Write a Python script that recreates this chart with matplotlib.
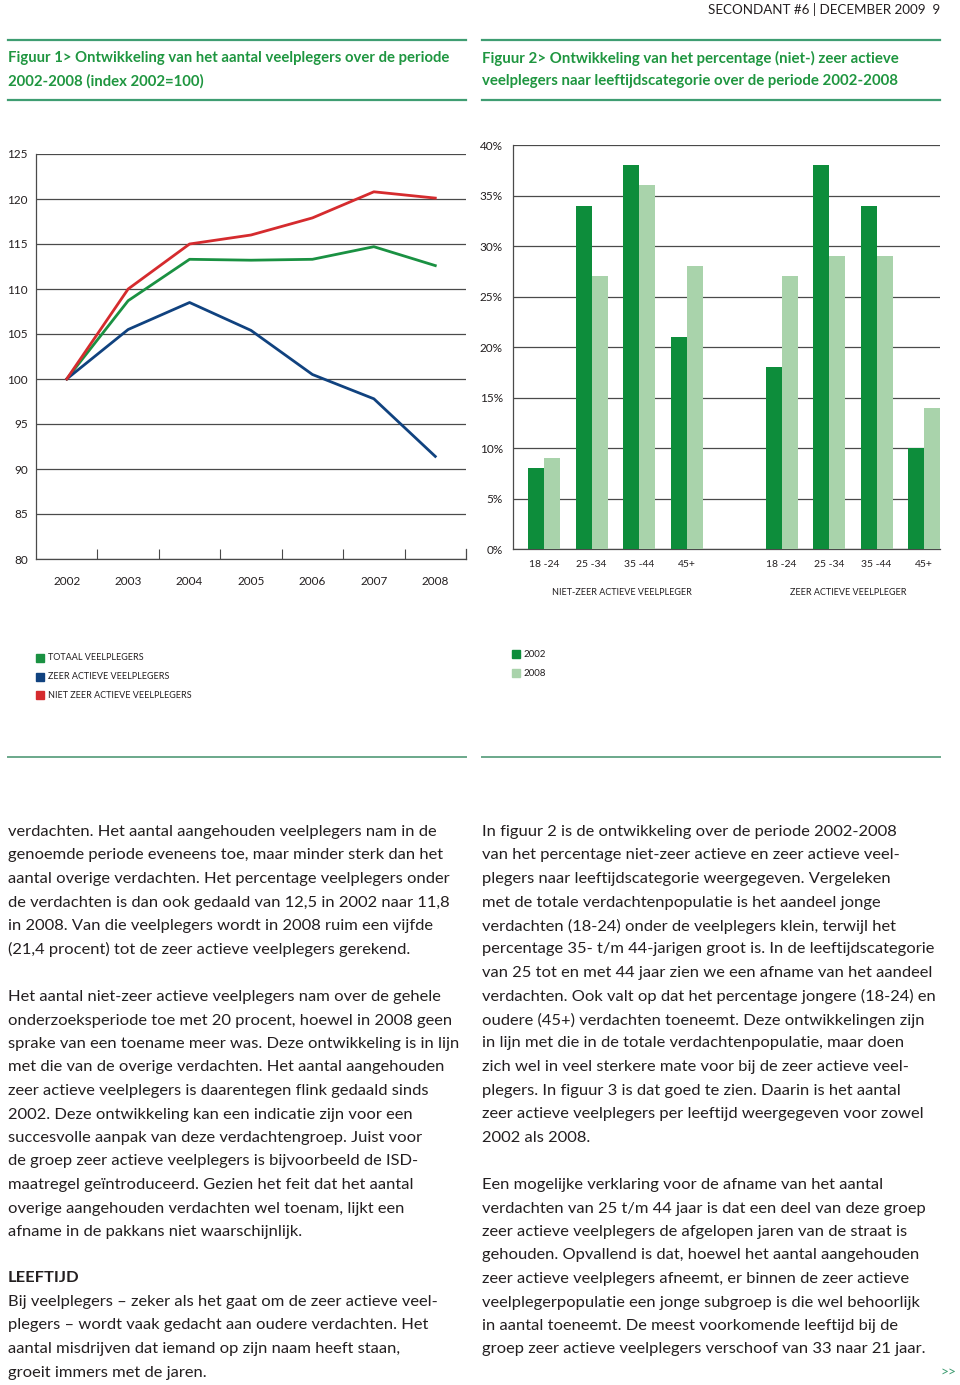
import numpy as np
import matplotlib
matplotlib.use("Agg")
import matplotlib.pyplot as plt
from matplotlib.lines import Line2D
from matplotlib.patches import Rectangle

W, H = 960, 1385

# figuur 1: index 2002=100
years = ["2002", "2003", "2004", "2005", "2006", "2007", "2008"]
totaal = [100, 108.7, 113.3, 113.2, 113.3, 114.7, 112.6]
zeer_actief = [100, 105.5, 108.5, 105.4, 100.5, 97.8, 91.4]
niet_zeer_actief = [100, 110.0, 115.0, 116.0, 117.9, 120.8, 120.1]

# figuur 2: percentage per leeftijdscategorie
age_groups = ["18 -24", "25 -34", "35 -44", "45+"]
niet_2002 = [8, 34, 38, 21]
niet_2008 = [9, 27, 36, 28]
zeer_2002 = [18, 38, 34, 10]
zeer_2008 = [27, 29, 29, 14]

GREEN = "#1a9142"
BLUE = "#10427f"
RED = "#d52b2e"
DARK = "#0d8d3b"
LIGHT = "#a9d3ab"
RULE = "#3f9d72"
TITLE = "#1f9640"
TXT = "#231f20"
GRID = "#4a4a4a"

plt.rcParams["font.family"] = ["Lato", "DejaVu Sans"]

fig = plt.figure(figsize=(W / 100, H / 100), dpi=100)
renderer = fig.canvas.get_renderer()


def fx(x):
    return x / W


def fy(y):
    return 1 - y / H


def ftext(x, y, s, **kw):
    kw.setdefault("color", TXT)
    kw.setdefault("va", "center")
    return fig.text(fx(x), fy(y), s, **kw)


def fit_text(x, y, s, width, size=12, **kw):
    # shrink/grow the font so the line spans the same width as the print
    t = ftext(x, y, s, fontsize=size, **kw)
    w = t.get_window_extent(renderer).width
    t.set_fontsize(size * width / w)
    return t


def rule(x0, x1, y, color=RULE, lw=1.6):
    fig.add_artist(Line2D([fx(x0), fx(x1)], [fy(y), fy(y)], color=color,
                          lw=lw, transform=fig.transFigure))


def square(x, y, color, s=8):
    fig.add_artist(Rectangle((fx(x), fy(y + s / 2)), s / W, s / H,
                             color=color, transform=fig.transFigure))


# header + figure titles
fit_text(940, 9, "SECONDANT #6 | DECEMBER 2009  9", 230, ha="right")
for x0, x1 in [(8, 466), (482, 940)]:
    rule(x0, x1, 40)
    rule(x0, x1, 100)
    rule(x0, x1, 757, color="#6aa88a", lw=1.4)
tkw = dict(color=TITLE, fontweight="bold")
t = fit_text(8, 58, "Figuur 1> Ontwikkeling van het aantal veelplegers over de periode",
             438, **tkw)
ftext(8, 81, "2002-2008 (index 2002=100)", fontsize=t.get_fontsize(), **tkw)
t = fit_text(482, 58, "Figuur 2> Ontwikkeling van het percentage (niet-) zeer actieve",
             416, **tkw)
ftext(482, 81, "veelplegers naar leeftijdscategorie over de periode 2002-2008",
      fontsize=t.get_fontsize(), **tkw)

# ---- figuur 1: line chart
ax1 = fig.add_axes([fx(36), fy(559), (466 - 36) / W, (559 - 154) / H])
x = np.arange(len(years))
ax1.plot(x, totaal, color=GREEN, lw=2)
ax1.plot(x, zeer_actief, color=BLUE, lw=2)
ax1.plot(x, niet_zeer_actief, color=RED, lw=2)
ax1.set_xlim(-0.5, len(years) - 0.5)
ax1.set_ylim(80, 125)
ax1.set_yticks(range(80, 126, 5))
ax1.yaxis.grid(True, color=GRID, lw=0.9)
ax1.set_axisbelow(True)
ax1.set_xticks(x)
ax1.set_xticklabels(years)
ax1.set_xticks(x[:-1] + 0.5, minor=True)
ax1.tick_params(axis="x", which="major", length=0, pad=12, labelsize=8.5,
                colors=TXT)
ax1.tick_params(axis="x", which="minor", length=7, direction="in", width=0.8,
                color=GRID)
ax1.tick_params(axis="y", length=0, pad=6, labelsize=8.5, colors=TXT)
ax1.spines["top"].set_visible(False)
ax1.spines["right"].set_bounds(80, 81.1)
for s in ["left", "bottom", "right"]:
    ax1.spines[s].set_color(GRID)
    ax1.spines[s].set_linewidth(0.9)

# ---- figuur 2: grouped bars
ax2 = fig.add_axes([fx(512.7), fy(549), (940 - 512.7) / W, (549 - 145) / H])
bw = 0.336
pos1 = np.arange(len(age_groups))
pos2 = pos1 + len(age_groups) + 1
ax2.bar(pos1 - bw / 2, niet_2002, bw, color=DARK, zorder=3)
ax2.bar(pos1 + bw / 2, niet_2008, bw, color=LIGHT, zorder=3)
ax2.bar(pos2 - bw / 2, zeer_2002, bw, color=DARK, zorder=3)
ax2.bar(pos2 + bw / 2, zeer_2008, bw, color=LIGHT, zorder=3)
ax2.set_xlim(-0.66, pos2[-1] + bw)
ax2.set_ylim(0, 40)
ax2.set_yticks(range(0, 41, 5))
ax2.set_yticklabels([f"{v}%" for v in range(0, 41, 5)])
ax2.yaxis.grid(True, color=GRID, lw=0.9, zorder=0)
ax2.set_xticks(np.concatenate([pos1, pos2]))
ax2.set_xticklabels(age_groups + age_groups)
ax2.tick_params(axis="x", length=0, pad=8, labelsize=7.5, colors=TXT)
ax2.tick_params(axis="y", length=0, pad=7, labelsize=8.5, colors=TXT)
for s in ["top", "right"]:
    ax2.spines[s].set_visible(False)
for s in ["left", "bottom"]:
    ax2.spines[s].set_color(GRID)
    ax2.spines[s].set_linewidth(0.9)
ftext(622, 592, "NIET-ZEER ACTIEVE VEELPLEGER", ha="center", fontsize=6.5)
ftext(848, 592, "ZEER ACTIEVE VEELPLEGER", ha="center", fontsize=6.5)

# legends
leg1 = [("TOTAAL VEELPLEGERS", GREEN), ("ZEER ACTIEVE VEELPLEGERS", BLUE),
        ("NIET ZEER ACTIEVE VEELPLEGERS", RED)]
for i, (lab, c) in enumerate(leg1):
    y = 658 + i * 18.5
    square(36, y, c)
    ftext(48, y, lab, fontsize=6.5)
for i, (lab, c) in enumerate([("2002", DARK), ("2008", LIGHT)]):
    y = 654 + i * 19
    square(512, y, c)
    ftext(524, y, lab, fontsize=7)

# body text
left_p1 = [
    "verdachten. Het aantal aangehouden veelplegers nam in de",
    "genoemde periode eveneens toe, maar minder sterk dan het",
    "aantal overige verdachten. Het percentage veelplegers onder",
    "de verdachten is dan ook gedaald van 12,5 in 2002 naar 11,8",
    "in 2008. Van die veelplegers wordt in 2008 ruim een vijfde",
    "(21,4 procent) tot de zeer actieve veelplegers gerekend.",
]
left_p2 = [
    "Het aantal niet-zeer actieve veelplegers nam over de gehele",
    "onderzoeksperiode toe met 20 procent, hoewel in 2008 geen",
    "sprake van een toename meer was. Deze ontwikkeling is in lijn",
    "met die van de overige verdachten. Het aantal aangehouden",
    "zeer actieve veelplegers is daarentegen flink gedaald sinds",
    "2002. Deze ontwikkeling kan een indicatie zijn voor een",
    "succesvolle aanpak van deze verdachtengroep. Juist voor",
    "de groep zeer actieve veelplegers is bijvoorbeeld de ISD-",
    "maatregel geïntroduceerd. Gezien het feit dat het aantal",
    "overige aangehouden verdachten wel toenam, lijkt een",
    "afname in de pakkans niet waarschijnlijk.",
]
left_p3 = [
    "Bij veelplegers – zeker als het gaat om de zeer actieve veel-",
    "plegers – wordt vaak gedacht aan oudere verdachten. Het",
    "aantal misdrijven dat iemand op zijn naam heeft staan,",
    "groeit immers met de jaren.",
]
right_p1 = [
    "In figuur 2 is de ontwikkeling over de periode 2002-2008",
    "van het percentage niet-zeer actieve en zeer actieve veel-",
    "plegers naar leeftijdscategorie weergegeven. Vergeleken",
    "met de totale verdachtenpopulatie is het aandeel jonge",
    "verdachten (18-24) onder de veelplegers klein, terwijl het",
    "percentage 35- t/m 44-jarigen groot is. In de leeftijdscategorie",
    "van 25 tot en met 44 jaar zien we een afname van het aandeel",
    "verdachten. Ook valt op dat het percentage jongere (18-24) en",
    "oudere (45+) verdachten toeneemt. Deze ontwikkelingen zijn",
    "in lijn met die in de totale verdachtenpopulatie, maar doen",
    "zich wel in veel sterkere mate voor bij de zeer actieve veel-",
    "plegers. In figuur 3 is dat goed te zien. Daarin is het aantal",
    "zeer actieve veelplegers per leeftijd weergegeven voor zowel",
    "2002 als 2008.",
]
right_p2 = [
    "Een mogelijke verklaring voor de afname van het aantal",
    "verdachten van 25 t/m 44 jaar is dat een deel van deze groep",
    "zeer actieve veelplegers de afgelopen jaren van de straat is",
    "gehouden. Opvallend is dat, hoewel het aantal aangehouden",
    "zeer actieve veelplegers afneemt, er binnen de zeer actieve",
    "veelplegerpopulatie een jonge subgroep is die wel behoorlijk",
    "in aantal toeneemt. De meest voorkomende leeftijd bij de",
    "groep zeer actieve veelplegers verschoof van 33 naar 21 jaar.",
]

LH = 23.5
BS = 11.85


def block(x, y0, lines):
    for i, line in enumerate(lines):
        ftext(x, y0 + i * LH, line, fontsize=BS)


block(8, 832, left_p1)
block(8, 997, left_p2)
ftext(8, 1278, "LEEFTIJD", fontsize=BS, fontweight="bold")
block(8, 1302, left_p3)
block(482, 832, right_p1)
block(482, 1185, right_p2)
ftext(948, 1372, ">>", ha="center", color=RULE, fontsize=10)

fig.savefig("out.png", dpi=100)
